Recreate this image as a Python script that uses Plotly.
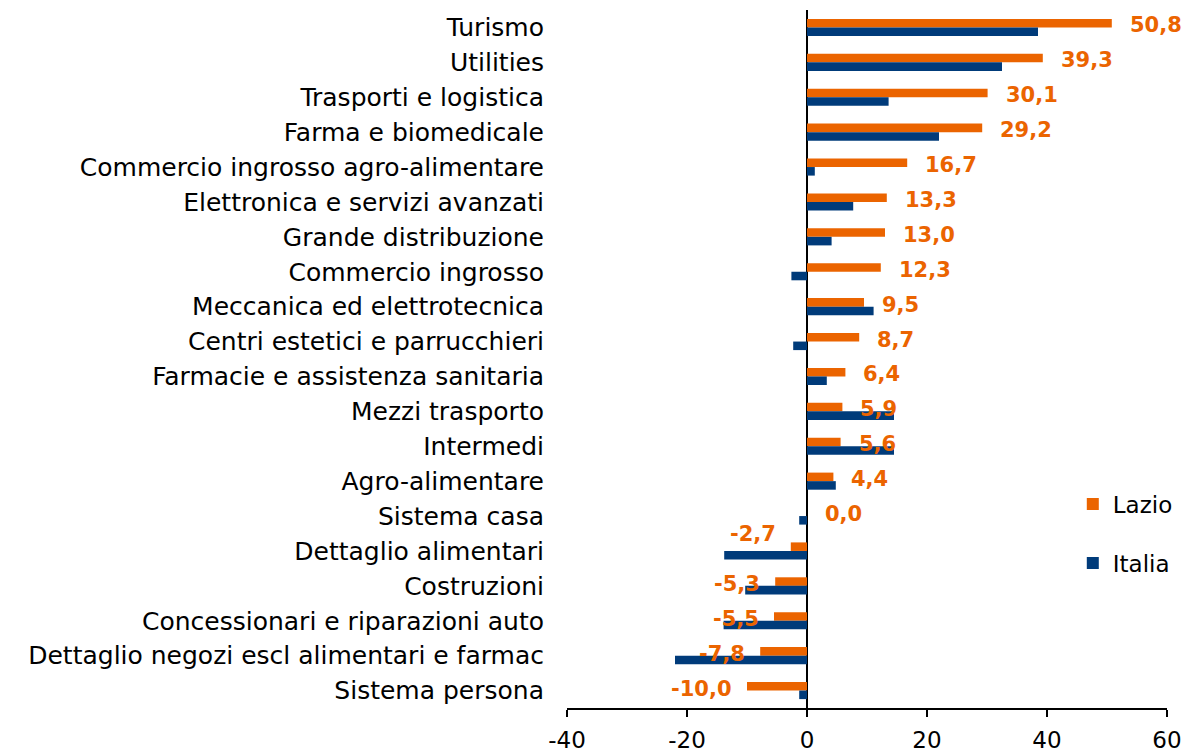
import plotly.graph_objects as go

# ---------------- data ----------------
categories = [
    "Turismo", "Utilities", "Trasporti e logistica", "Farma e biomedicale",
    "Commercio ingrosso agro-alimentare", "Elettronica e servizi avanzati",
    "Grande distribuzione", "Commercio ingrosso", "Meccanica ed elettrotecnica",
    "Centri estetici e parrucchieri", "Farmacie e assistenza sanitaria",
    "Mezzi trasporto", "Intermedi", "Agro-alimentare", "Sistema casa",
    "Dettaglio alimentari", "Costruzioni", "Concessionari e riparazioni auto",
    "Dettaglio negozi escl alimentari e farmac", "Sistema persona",
]
lazio = [50.8, 39.3, 30.1, 29.2, 16.7, 13.3, 13.0, 12.3, 9.5, 8.7,
         6.4, 5.9, 5.6, 4.4, 0.0, -2.7, -5.3, -5.5, -7.8, -10.0]
italia = [38.5, 32.5, 13.6, 22.0, 1.3, 7.7, 4.1, -2.6, 11.1, -2.3,
          3.3, 14.5, 14.5, 4.8, -1.3, -13.8, -10.3, -13.9, -22.0, -1.3]
series_names = ["Lazio", "Italia"]
tick_vals = [-40, -20, 0, 20, 40, 60]
tick_text = ["-40", "-20", "0", "20", "40", "60"]

# ---------------- style ----------------
ORANGE = "#EB6400"
BLUE = "#003B7A"
FONT = "DejaVu Sans"
label_nudge_up = {"Dettaglio alimentari": 15}

fig = go.Figure()
fig.add_trace(go.Bar(
    y=categories, x=lazio, orientation="h", name=series_names[0],
    marker=dict(color=ORANGE, line=dict(width=0)), legendgroup="a",
))
fig.add_trace(go.Bar(
    y=categories, x=italia, orientation="h", name=series_names[1],
    marker=dict(color=BLUE, line=dict(width=0)), legendgroup="b",
))

annotations = []
for cat, v in zip(categories, lazio):
    txt = f"{v:.1f}".replace(".", ",")
    neg = v < 0
    annotations.append(dict(
        x=v, y=cat, xref="x", yref="y", text=txt, showarrow=False,
        xanchor="right" if neg else "left",
        xshift=-13 if neg else 16,
        yshift=2 + label_nudge_up.get(cat, 0),
        font=dict(family=FONT, size=21, color=ORANGE, weight="bold"),
    ))

fig.update_layout(
    width=1184, height=753,
    margin=dict(l=567, r=17, t=10, b=45, autoexpand=False),
    paper_bgcolor="white", plot_bgcolor="white",
    barmode="group", bargap=0.51, bargroupgap=0,
    font=dict(family=FONT, size=23, color="#000000"),
    showlegend=True,
    legend=dict(
        x=0.843, y=0.323, xanchor="left", yanchor="top",
        traceorder="grouped", tracegroupgap=26,
        font=dict(family=FONT, size=23, color="#000000"),
        bgcolor="rgba(0,0,0,0)",
    ),
    annotations=annotations,
)
fig.update_xaxes(
    range=[-40, 60], tickvals=tick_vals, ticktext=tick_text,
    showgrid=False, zeroline=True, zerolinecolor="#000000", zerolinewidth=1.5,
    showline=True, linecolor="#000000", linewidth=1.5,
    ticks="outside", ticklen=7, tickwidth=1.5, tickcolor="#000000",
    ticklabelstandoff=4,
    tickfont=dict(family=FONT, size=23, color="#000000"),
)
fig.update_yaxes(
    categoryorder="array", categoryarray=categories, autorange="reversed",
    showgrid=False, zeroline=False, showline=False, ticks="",
    ticklabelstandoff=22,
    tickfont=dict(family=FONT, size=25, color="#000000"),
)

fig.write_html(
    "out.html",
    config={"displayModeBar": False},
    post_script="document.body.style.margin='0';document.body.style.overflow='hidden';",
)
